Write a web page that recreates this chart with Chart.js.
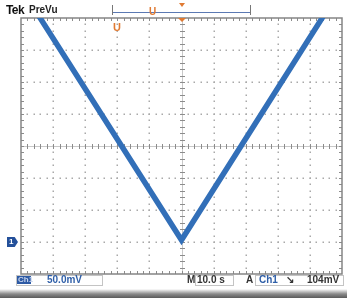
<!DOCTYPE html>
<html>
<head>
<meta charset="utf-8">
<script src="https://cdn.jsdelivr.net/npm/chart.js@4.4.1/dist/chart.umd.min.js"></script>
<style>
  body { margin: 0; background: #fff; }
  #wrap { position: relative; width: 347px; height: 298px; overflow: hidden; font-family: "Liberation Sans", Arial, sans-serif; }
  canvas { position: absolute; left: 0; top: 0; }
  .t { position: absolute; line-height: 1; white-space: nowrap; font-weight: bold; }
  .box { position: absolute; border: 1px solid #c4c4c4; }
</style>
</head>
<body>
<div id="wrap">
  <canvas id="scope" width="347" height="298"></canvas>

  <!-- top readout -->
  <div class="t" style="left:6px;top:4px;font-size:12px;color:#111;letter-spacing:-0.6px;">Tek</div>
  <div class="t" style="left:29px;top:5px;font-size:10px;color:#222;">PreVu</div>
  <div style="position:absolute;left:112px;top:5px;width:137px;height:10px;border-left:1px solid #777;border-right:1px solid #777;"></div>
  <div style="position:absolute;left:113px;top:12px;width:137px;height:1px;background:#5b79b3;"></div>
  <div class="t" style="left:149px;top:7px;font-size:10px;color:#e07a32;">U</div>
  <div style="position:absolute;left:179px;top:3px;width:0;height:0;border-left:3px solid transparent;border-right:3px solid transparent;border-top:4px solid #e07a32;"></div>
  <div style="position:absolute;left:178px;top:18px;width:0;height:0;border-left:4px solid transparent;border-right:4px solid transparent;border-top:4px solid #e07a32;"></div>
  <div class="t" style="left:113px;top:22px;font-size:11px;color:#e07a32;">U</div>

  <!-- ground marker -->
  <div style="position:absolute;left:7px;top:237px;width:11px;height:10px;background:#24509a;clip-path:polygon(0 0,70% 0,100% 50%,70% 100%,0 100%);"></div>
  <div class="t" style="left:9px;top:238px;font-size:8px;color:#fff;">1</div>

  <!-- bottom readout -->
  <div class="box" style="left:16px;top:275px;width:85px;height:9px;"></div>
  <div style="position:absolute;left:17px;top:276px;width:14px;height:8px;background:#2d5aa4;"></div>
  <div class="t" style="left:18px;top:276px;font-size:8px;color:#c9d6ee;">Ch1</div>
  <div class="t" style="left:47px;top:275px;font-size:10px;color:#2f5fa8;">50.0mV</div>

  <div class="t" style="left:187px;top:275px;font-size:10px;color:#333;">M</div>
  <div class="box" style="left:195px;top:275px;width:37px;height:9px;"></div>
  <div class="t" style="left:197px;top:275px;font-size:10px;color:#333;">10.0 s</div>

  <div class="t" style="left:246px;top:275px;font-size:10px;color:#333;">A</div>
  <div class="box" style="left:255px;top:275px;width:87px;height:9px;"></div>
  <div class="t" style="left:259px;top:275px;font-size:10px;color:#2f5fa8;">Ch1</div>
  <div class="t" style="left:286px;top:275px;font-size:10px;color:#333;">&#x2198;</div>
  <div class="t" style="left:307px;top:275px;font-size:10px;color:#333;">104mV</div>

  <!-- bottom shadow -->
  <div style="position:absolute;left:0;top:289px;width:347px;height:9px;background:linear-gradient(#fff,#8a8a8a 55%,#5a5a5a);"></div>
</div>

<script>
//time axis in seconds (10 s/div), voltage in mV (50 mV/div)
const times = [-50, 0, 50];
const volts = [397, 3, 399];
const xMin = -50, xMax = 50, xDiv = 10;
const yMin = -50, yMax = 350, yDiv = 50;
const xCenter = 0;
const yCenter = 150;

//draws the dotted graticule, center axes and frame
const graticule = {
  id: "graticule",
  beforeDatasetsDraw(chart) {
    const { ctx, chartArea: a, scales: { x, y } } = chart;
    const xStep = xDiv / 5;
    const yStep = yDiv / 5;
    ctx.save();

    //dotted grid lines
    ctx.fillStyle = "#a9a9a9";
    for (let t = xMin + xDiv; t < xMax; t += xDiv) {
      if (t === xCenter) continue;
      const px = Math.round(x.getPixelForValue(t));
      for (let v = yMin + yStep; v < yMax; v += yStep) {
        ctx.fillRect(px - 0.5, Math.round(y.getPixelForValue(v)) - 0.5, 1.5, 1.5);
      }
    }
    for (let v = yMin + yDiv; v < yMax; v += yDiv) {
      if (v === yCenter) continue;
      const py = Math.round(y.getPixelForValue(v));
      for (let t = xMin + xStep; t < xMax; t += xStep) {
        ctx.fillRect(Math.round(x.getPixelForValue(t)) - 0.5, py - 0.5, 1.5, 1.5);
      }
    }

    //center cross with minor ticks
    const cx = Math.round(x.getPixelForValue(xCenter)) + 0.5;
    const cy = Math.round(y.getPixelForValue(yCenter)) + 0.5;
    ctx.strokeStyle = "#c8c8c8";
    ctx.lineWidth = 1;
    ctx.beginPath();
    ctx.moveTo(a.left, cy); ctx.lineTo(a.right, cy);
    ctx.moveTo(cx, a.top); ctx.lineTo(cx, a.bottom);
    ctx.stroke();
    ctx.strokeStyle = "#8c8c8c";
    ctx.beginPath();
    for (let t = xMin + xStep; t < xMax; t += xStep) {
      const px = Math.round(x.getPixelForValue(t)) + 0.5;
      ctx.moveTo(px, cy - 2.5); ctx.lineTo(px, cy + 2.5);
      ctx.moveTo(px, a.top); ctx.lineTo(px, a.top + 3);
      ctx.moveTo(px, a.bottom); ctx.lineTo(px, a.bottom - 3);
    }
    for (let v = yMin + yStep; v < yMax; v += yStep) {
      const py = Math.round(y.getPixelForValue(v)) + 0.5;
      ctx.moveTo(cx - 2.5, py); ctx.lineTo(cx + 2.5, py);
      ctx.moveTo(a.left, py); ctx.lineTo(a.left + 3, py);
      ctx.moveTo(a.right, py); ctx.lineTo(a.right - 3, py);
    }
    ctx.stroke();

    //outer frame
    ctx.strokeStyle = "#858585";
    ctx.lineWidth = 1.5;
    ctx.strokeRect(a.left, a.top, a.right - a.left, a.bottom - a.top);
    ctx.restore();
  }
};

const ctx = document.getElementById("scope").getContext("2d");
const scopeChart = new Chart(ctx, {
  type: "line",
  data: {
    labels: times,
    datasets: [
      {
        data: times.map((t, i) => ({ x: t, y: volts[i] })),
        borderColor: "#326fb8",
        borderWidth: 5.5,
        pointRadius: 0,
        tension: 0,
        borderJoinStyle: "miter",
      },
    ],
  },
  options: {
    responsive: false,
    animation: false,
    layout: { padding: { left: 21, top: 18, right: 5, bottom: 24 } },
    plugins: { legend: { display: false }, tooltip: { enabled: false } },
    scales: {
      x: { type: "linear", min: xMin, max: xMax, display: false },
      y: { type: "linear", min: yMin, max: yMax, display: false },
    },
  },
  plugins: [graticule],
});
</script>
</body>
</html>
